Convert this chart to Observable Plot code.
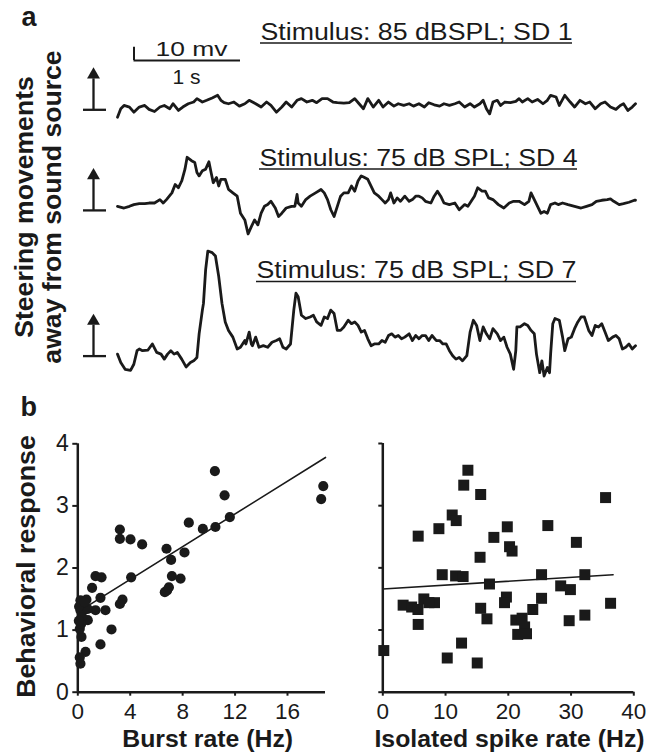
<!DOCTYPE html>
<html><head><meta charset="utf-8">
<script src="https://cdn.jsdelivr.net/npm/d3@7"></script>
<script src="https://cdn.jsdelivr.net/npm/@observablehq/plot@0.6"></script>
<style>
body{margin:0;background:#fff;}
#fig{position:relative;width:658px;height:752px;overflow:hidden;background:#fff;}
#fig svg{position:absolute;overflow:visible;}
</style></head><body><div id="fig"></div>
<script>
// ---------- DATA ----------
// Panel a: steering traces (time in s, deflection in mV relative to each trace's baseline)
const trace1T = [0.00,0.03,0.06,0.11,0.15,0.20,0.25,0.29,0.34,0.39,0.43,0.48,0.51,0.56,0.60,0.65,0.70,0.73,0.78,0.82,0.87,0.92,0.95,0.98,1.02,1.07,1.12,1.17,1.21,1.27,1.32,1.37,1.41,1.46,1.51,1.55,1.60,1.65,1.69,1.74,1.79,1.83,1.88,1.93,1.98,2.02,2.08,2.13,2.18,2.22,2.26,2.30,2.35,2.40,2.44,2.49,2.54,2.58,2.63,2.68,2.72,2.77,2.82,2.86,2.91,2.96,3.00,3.05,3.10,3.14,3.19,3.24,3.28,3.33,3.36,3.39,3.42,3.45,3.49,3.52,3.56,3.61,3.66,3.69,3.72,3.77,3.81,3.86,3.91,3.95,3.98,4.03,4.06,4.11,4.16,4.20,4.25,4.30,4.34,4.39,4.44,4.48,4.53,4.58,4.62,4.65,4.69,4.73,4.76];
const trace1V = [-5.6,0.8,3.3,2.1,-1.8,2.1,3.3,0.3,-1.3,2.1,3.3,0.8,4.6,-0.5,2.1,4.6,5.9,8.5,5.9,7.2,9.0,11.0,7.2,5.4,4.6,5.9,2.8,4.6,7.2,4.6,2.1,5.9,3.3,-1.8,2.1,5.9,2.1,7.2,8.5,5.9,7.2,5.4,8.5,8.5,5.9,5.4,5.1,5.4,8.5,4.6,0.8,8.5,2.1,7.2,2.1,5.9,2.8,4.6,3.3,4.6,2.8,4.6,2.1,5.4,3.8,2.8,4.6,3.3,4.6,5.9,2.1,4.6,2.1,4.6,7.2,0.8,-3.1,5.9,7.2,3.3,5.9,5.4,6.4,8.5,5.9,8.5,5.9,7.9,4.6,7.2,11.0,9.7,3.3,11.0,5.9,2.1,7.2,4.6,5.9,0.8,4.6,5.9,2.1,0.3,3.3,4.6,-0.5,2.1,4.6];
const trace2T = [0.00,0.06,0.11,0.15,0.20,0.25,0.29,0.34,0.39,0.42,0.45,0.50,0.53,0.56,0.59,0.62,0.64,0.68,0.71,0.73,0.75,0.78,0.81,0.84,0.86,0.88,0.91,0.93,0.95,0.99,1.02,1.06,1.10,1.13,1.17,1.20,1.23,1.26,1.29,1.32,1.35,1.38,1.41,1.45,1.48,1.51,1.55,1.60,1.63,1.65,1.66,1.69,1.73,1.77,1.82,1.87,1.90,1.93,1.96,1.99,2.02,2.05,2.08,2.12,2.15,2.18,2.21,2.24,2.27,2.30,2.33,2.36,2.40,2.43,2.46,2.49,2.51,2.54,2.57,2.60,2.64,2.68,2.71,2.74,2.77,2.80,2.83,2.88,2.91,2.94,2.97,3.00,3.05,3.10,3.14,3.19,3.22,3.25,3.28,3.31,3.35,3.38,3.41,3.45,3.50,3.55,3.60,3.64,3.69,3.74,3.78,3.80,3.83,3.86,3.89,3.92,3.95,3.98,4.02,4.05,4.09,4.14,4.20,4.26,4.31,4.36,4.40,4.45,4.50,4.53,4.56,4.61,4.65,4.70,4.75,4.76];
const trace2V = [3.1,1.8,3.1,4.4,5.1,5.1,5.6,5.6,8.2,5.6,8.2,13.3,19.7,17.2,22.3,31.3,40.3,37.7,36.4,28.7,26.2,30.0,31.3,36.9,28.7,21.0,24.9,18.5,23.6,23.6,15.9,13.3,10.8,-2.1,-7.2,-17.9,-12.3,-7.2,-11.0,-2.1,3.1,4.4,6.9,1.8,-4.6,-2.1,1.8,3.1,3.1,12.1,5.6,3.1,8.2,10.8,13.3,15.9,13.3,8.2,0.5,-4.6,3.1,10.8,13.3,13.3,18.5,14.6,22.3,26.2,24.9,23.6,18.5,13.3,10.8,8.2,5.6,8.2,13.3,5.6,9.5,6.9,10.8,6.9,8.2,10.8,10.8,9.5,6.9,5.6,10.8,14.6,10.8,5.6,4.4,5.6,0.5,4.4,3.1,6.9,10.8,17.2,14.6,14.6,9.5,8.2,4.4,1.8,5.6,6.9,6.9,4.4,6.9,13.3,8.2,3.1,-2.1,-0.8,-2.1,4.4,5.6,4.4,5.6,4.4,3.1,1.8,3.1,4.4,6.9,7.7,8.2,8.7,6.9,4.4,5.1,6.2,7.7,7.7];
const trace3T = [0.00,0.03,0.07,0.12,0.15,0.18,0.20,0.23,0.28,0.32,0.36,0.40,0.43,0.46,0.49,0.52,0.55,0.59,0.63,0.67,0.70,0.73,0.75,0.78,0.79,0.81,0.83,0.87,0.90,0.93,0.96,0.99,1.02,1.06,1.10,1.13,1.17,1.18,1.21,1.23,1.24,1.27,1.30,1.34,1.38,1.42,1.46,1.49,1.52,1.55,1.59,1.62,1.64,1.66,1.69,1.73,1.77,1.80,1.83,1.87,1.90,1.93,1.96,1.99,2.02,2.05,2.08,2.12,2.15,2.18,2.21,2.24,2.27,2.30,2.33,2.36,2.40,2.43,2.46,2.49,2.52,2.55,2.58,2.61,2.64,2.68,2.71,2.74,2.77,2.80,2.83,2.86,2.89,2.93,2.96,2.99,3.02,3.05,3.08,3.11,3.14,3.17,3.21,3.24,3.27,3.30,3.33,3.36,3.39,3.42,3.45,3.49,3.52,3.55,3.58,3.61,3.64,3.66,3.67,3.70,3.74,3.77,3.80,3.83,3.85,3.88,3.90,3.92,3.95,3.97,3.98,4.00,4.02,4.06,4.09,4.11,4.14,4.17,4.20,4.23,4.26,4.29,4.33,4.36,4.39,4.42,4.45,4.48,4.51,4.55,4.58,4.61,4.64,4.67,4.70,4.73,4.76];
const trace3V = [1.5,-4.9,-10.0,-10.8,-6.2,4.1,5.4,4.1,4.6,9.2,2.8,1.5,-2.3,1.5,4.1,1.5,2.8,-2.3,-8.2,-4.9,-3.6,-1.0,16.9,34.9,40.0,65.6,79.7,78.5,75.9,60.5,40.0,25.9,19.5,14.4,5.4,6.7,11.8,9.2,18.2,9.2,7.9,14.4,6.7,7.9,6.7,10.5,11.8,13.1,6.7,5.4,9.2,34.9,47.7,45.1,31.0,28.5,29.7,31.0,25.9,23.3,29.7,28.5,34.9,32.3,19.5,19.5,22.1,27.2,24.6,25.9,23.3,18.2,19.5,13.1,7.9,9.2,9.2,11.8,10.5,15.6,16.9,14.4,15.6,13.1,14.4,16.9,11.8,15.6,13.1,15.6,15.6,11.8,15.6,11.8,11.8,9.2,9.2,4.1,0.3,-2.3,-1.0,-3.6,0.3,18.2,27.2,23.3,11.8,22.1,16.9,13.1,20.8,16.9,11.8,14.4,6.7,1.5,-10.0,4.1,22.1,22.1,24.6,23.3,19.5,16.9,1.5,-12.6,-3.6,-15.1,-8.7,-12.6,1.5,24.6,28.5,27.2,14.4,4.1,13.1,14.4,20.8,25.9,29.7,29.7,19.5,15.6,23.3,22.1,24.6,18.2,11.8,14.4,15.6,13.1,5.4,6.7,9.2,5.4,7.9];
const stimulusLabels = ["Stimulus: 85 dBSPL; SD 1", "Stimulus: 75 dB SPL; SD 4", "Stimulus: 75 dB SPL; SD 7"];
const panelALabel = "Steering movements\naway from sound source";

// Panel b, left: burst rate vs behavioral response
const burstRate = [10.46,11.2,18.73,18.57,11.6,10.5,9.54,8.47,8.14,6.77,7.12,7.18,7.84,6.82,6.64,6.95,3.21,3.21,4.02,4.91,4.07,3.41,3.21,1.35,1.81,1.09,1.73,0.66,1.35,2.11,0.76,2.57,1.73,0.59,0.28,0.2,0.15,0.33,0.2,0.46,0.2,0.15,0.33,0.76,0.2,0.25,0.08,0.1,0.5];
const burstResponse = [3.56,3.17,3.32,3.11,2.82,2.66,2.63,2.73,2.25,2.31,2.13,1.87,1.83,1.64,1.61,1.69,2.62,2.47,2.46,2.38,1.85,1.49,1.42,1.87,1.85,1.68,1.52,1.49,1.32,1.32,1.16,1.01,0.77,0.65,0.89,0.46,0.56,1.40,1.32,1.32,1.16,1.02,1.21,1.34,1.48,1.10,1.15,1.38,1.45];
const burstFitX = [0, 18.9];
const burstFitY = [1.29, 3.78];

// Panel b, right: isolated spike rate vs behavioral response
const spikeRate = [13.56,12.9,15.6,35.5,11.06,11.7,8.94,5.64,19.84,26.3,17.7,20.2,20.6,30.85,15.5,9.47,11.6,12.8,25.3,32.2,17.0,28.35,29.9,3.24,4.6,5.6,6.54,8.24,7.34,5.64,19.7,19.4,25.3,15.6,16.6,23.9,21.2,22.2,22.6,21.5,22.9,36.3,32.2,29.7,12.55,10.27,15.05,0.16];
const spikeResponse = [3.57,3.33,3.18,3.13,2.85,2.76,2.63,2.51,2.66,2.68,2.49,2.34,2.27,2.41,2.17,1.89,1.87,1.86,1.89,1.89,1.74,1.71,1.65,1.40,1.37,1.33,1.50,1.44,1.44,1.09,1.53,1.44,1.51,1.35,1.18,1.33,1.16,1.19,1.05,0.93,0.94,1.43,1.24,1.15,0.79,0.55,0.47,0.67];
const spikeFitX = [0, 36.7];
const spikeFitY = [1.66, 1.89];

const responseTicks = [0, 1, 2, 3, 4];
const burstTicks = [0, 4, 8, 12, 16];
const spikeTicks = [0, 10, 20, 30, 40];

// ---------- LAYOUT ----------
const FONT = "'Liberation Sans', Arial, Helvetica, sans-serif";
const INK = "#1a1a1a";
const fig = document.getElementById("fig");
function place(svg, left, top) { svg.style.left = left + "px"; svg.style.top = top + "px"; fig.appendChild(svg); return svg; }

// Panel a geometry
const A_LEFT = 117, A_RIGHT = 635, T_MAX = 4.76;
const PXS = (A_RIGHT - A_LEFT) / T_MAX;   // px per s
const PXM = 1.318;                         // px per mV
const BASE = [109.3, 209.9, 355.6];        // baseline (0 mV) of each trace, px
const xa = px => (px - A_LEFT) / PXS;
const ya = py => (BASE[0] - py) / PXM;

const traces = [[trace1T, trace1V], [trace2T, trace2V], [trace3T, trace3V]];
const traceData = traces.flatMap(([T, V], k) => T.map((t, i) => ({k, t, v: V[i] + (BASE[0] - BASE[k]) / PXM})));
const arrows = BASE.map((b, k) => ({k, base: ya(b), stemTop: ya(b - 31), head: ya(b - 35)}));
const labelPos = [{x: 260, y: 39, w: 312}, {x: 259, y: 165, w: 318}, {x: 256, y: 277.5, w: 320}];
const labels = stimulusLabels.map((s, i) => ({s, x: xa(labelPos[i].x), x2: xa(labelPos[i].x + labelPos[i].w), y: ya(labelPos[i].y), u: ya(labelPos[i].y + 3.5), w: labelPos[i].w}));

const plotA = Plot.plot({
  width: 658, height: 390,
  marginLeft: A_LEFT, marginRight: 658 - A_RIGHT, marginTop: 0, marginBottom: 0,
  x: {domain: [0, T_MAX], axis: null},
  y: {domain: [ya(390), ya(0)], axis: null},
  style: {fontFamily: FONT, background: "transparent", color: INK, overflow: "visible"},
  marks: [
    Plot.line(traceData, {x: "t", y: "v", z: "k", stroke: INK, strokeWidth: 2.8, strokeLinejoin: "round", strokeLinecap: "round", clip: false}),
    // arrows
    Plot.ruleY(arrows, {y: "base", x1: xa(83), x2: xa(106), stroke: INK, strokeWidth: 2.3}),
    Plot.ruleX(arrows, {x: xa(93), y1: "base", y2: "stemTop", stroke: INK, strokeWidth: 2.3}),
    Plot.dot(arrows, {x: xa(93), y: "head", symbol: "triangle", r: 4.8, fill: INK, stroke: "none"}),
    // scale bar
    Plot.ruleX([0], {x: xa(133.5), y1: ya(60), y2: ya(46.8), stroke: INK, strokeWidth: 2}),
    Plot.ruleY([0], {y: ya(60), x1: xa(133.5), x2: xa(240), stroke: INK, strokeWidth: 2}),
    Plot.text(["10 mv"], {x: xa(191), y: ya(55), text: d => d, textAnchor: "middle", lineAnchor: "bottom", fontSize: 21, fill: INK}),
    Plot.text(["1 s"], {x: xa(186), y: ya(83), text: d => d, textAnchor: "middle", lineAnchor: "bottom", fontSize: 21, fill: INK}),
    // stimulus labels
    Plot.text(labels, {x: "x", y: "y", text: "s", textAnchor: "start", lineAnchor: "bottom", fontSize: 23, fill: INK}),
    Plot.ruleY(labels, {y: "u", x1: "x", x2: "x2", stroke: INK, strokeWidth: 1.6}),
    // panel label and y label
    Plot.text(["a"], {x: xa(21), y: ya(25), text: d => d, textAnchor: "start", lineAnchor: "bottom", fontSize: 27, fontWeight: "bold", fill: INK}),
    Plot.text([panelALabel], {x: xa(60), y: ya(206.5), text: d => d, rotate: -90, textAnchor: "middle", lineAnchor: "bottom", fontSize: 26.6, lineHeight: 1.02, fontWeight: "bold", fill: INK})
  ]
});
place(plotA, 0, 0);
d3.select(plotA).selectAll("text").each(function () {
  const s = this.textContent;
  const lab = labels.find(l => l.s === s);
  if (lab) d3.select(this).attr("textLength", lab.w).attr("lengthAdjust", "spacingAndGlyphs");
  if (s === "10 mv") d3.select(this).attr("textLength", 72).attr("lengthAdjust", "spacingAndGlyphs");
});

// Panel b, left scatter
const burst = burstRate.map((x, i) => ({x, y: burstResponse[i]}));
const burstFit = burstFitX.map((x, i) => ({x, y: burstFitY[i]}));
const plotB1 = Plot.plot({
  width: 330, height: 362,
  marginLeft: 77.3, marginRight: 5, marginTop: 53.3, marginBottom: 60.3,
  x: {domain: [0, 18.9]},
  y: {domain: [0, 4]},
  style: {fontFamily: FONT, fontSize: "23px", background: "transparent", color: INK, overflow: "visible"},
  marks: [
    Plot.axisY({ticks: responseTicks, tickFormat: d3.format("d"), tickSize: 5, tickPadding: 4, fontSize: 23, label: null, strokeWidth: 2, anchor: "left"}),
    Plot.axisX({ticks: burstTicks, tickFormat: d3.format("d"), tickSize: 4, tickPadding: 6.5, fontSize: 22.5, label: null, strokeWidth: 2, anchor: "bottom"}),
    Plot.ruleX([0], {stroke: INK, strokeWidth: 2.5}),
    Plot.ruleY([0], {stroke: INK, strokeWidth: 2.5}),
    Plot.line(burstFit, {x: "x", y: "y", stroke: INK, strokeWidth: 1.6}),
    Plot.dot(burst, {x: "x", y: "y", r: 5.1, fill: INK, stroke: "none", clip: false}),
    Plot.text(["Burst rate (Hz)"], {frameAnchor: "bottom", dx: 6, dy: 54.8, text: d => d, lineAnchor: "bottom", fontSize: 24.8, fontWeight: "bold", fill: INK}),
    Plot.text(["Behavioral response"], {frameAnchor: "left", dx: 34 - 77.3, dy: -1.5, text: d => d, rotate: -90, textAnchor: "middle", lineAnchor: "bottom", fontSize: 26.7, fontWeight: "bold", fill: INK}),
    Plot.text(["b"], {frameAnchor: "top-left", dx: 20 - 77.3, dy: 415 - 443.3, text: d => d, textAnchor: "start", lineAnchor: "bottom", fontSize: 27, fontWeight: "bold", fill: INK})
  ]
});
place(plotB1, 0, 390);

// Panel b, right scatter
const spike = spikeRate.map((x, i) => ({x, y: spikeResponse[i]}));
const spikeFit = spikeFitX.map((x, i) => ({x, y: spikeFitY[i]}));
const plotB2 = Plot.plot({
  width: 328, height: 362,
  marginLeft: 52.3, marginRight: 24.7, marginTop: 53, marginBottom: 60.3,
  x: {domain: [0, 40]},
  y: {domain: [0, 4]},
  style: {fontFamily: FONT, fontSize: "23px", background: "transparent", color: INK, overflow: "visible"},
  marks: [
    Plot.axisY({ticks: responseTicks, tickSize: 4, tickPadding: 4, tickFormat: () => "", label: null, strokeWidth: 2, anchor: "left"}),
    Plot.axisX({ticks: spikeTicks, tickFormat: d3.format("d"), tickSize: 4, tickPadding: 6.5, fontSize: 22.5, label: null, strokeWidth: 2, anchor: "bottom"}),
    Plot.ruleX([0], {stroke: INK, strokeWidth: 2.5}),
    Plot.ruleY([0], {stroke: INK, strokeWidth: 2.5}),
    Plot.line(spikeFit, {x: "x", y: "y", stroke: INK, strokeWidth: 1.6}),
    Plot.dot(spike, {x: "x", y: "y", symbol: "square", r: 6.2, fill: INK, stroke: "none", clip: false}),
    Plot.text(["Isolated spike rate (Hz)"], {frameAnchor: "bottom", dx: 1.2, dy: 54.8, text: d => d, lineAnchor: "bottom", fontSize: 24.8, fontWeight: "bold", fill: INK})
  ]
});
place(plotB2, 330, 390);
</script>
</body></html>
